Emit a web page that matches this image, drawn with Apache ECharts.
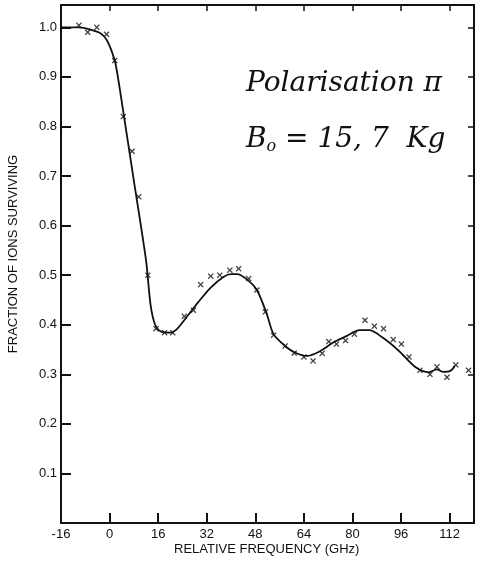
<!DOCTYPE html>
<html>
<head>
<meta charset="UTF-8">
<title>Fraction of ions surviving</title>
<script src="https://cdn.jsdelivr.net/npm/echarts@6/dist/echarts.min.js"></script>
<style>
    body { margin: 0; background: #fff; }
    #chart { width: 481px; height: 568px; }
</style>
</head>
<body>
<div id="chart"></div>
<script>
// measured points (x marks)
var measFreq = [-10.1, -7.2, -4.2, -1, 1.7, 4.5, 7.4, 9.6, 12.6, 15.3, 18.1, 20.8, 24.6, 27.6, 30, 33.3,
    36.3, 39.6, 42.5, 45.8, 48.5, 51.3, 54, 57.8, 60.8, 64, 67, 70, 72.2, 74.7, 77.7, 80.6, 84.1, 87.2,
    90.2, 93.4, 96.1, 98.6, 102.2, 105.5, 107.8, 111.1, 114, 118.2];
var measFrac = [1.004, 0.99, 1.0, 0.986, 0.933, 0.82, 0.75, 0.658, 0.5, 0.392, 0.384, 0.384, 0.417, 0.429, 0.481, 0.498,
    0.5, 0.51, 0.513, 0.493, 0.47, 0.426, 0.379, 0.357, 0.343, 0.335, 0.327, 0.342, 0.366, 0.361, 0.368, 0.381, 0.409, 0.397,
    0.392, 0.37, 0.361, 0.335, 0.308, 0.3, 0.315, 0.294, 0.319, 0.308];

// hand-drawn fit curve
var curveFreq = [-16, -10, -6, -3, -1, 0.5, 2, 4, 8, 12, 13.5, 15, 17, 20, 22, 25.7, 29, 33.3, 37.6, 40, 42, 45.3,
    48.5, 51.8, 54, 58, 61, 65, 69.4, 73.6, 78, 82.3, 85.5, 89.9, 95.3, 100.8, 105.1, 107.8, 109.7, 112.2, 113.7];
var curveFrac = [1.0, 1.0, 0.995, 0.988, 0.975, 0.955, 0.925, 0.85, 0.69, 0.53, 0.44, 0.4, 0.386, 0.384, 0.39, 0.418, 0.444,
    0.475, 0.497, 0.502, 0.502, 0.491, 0.47, 0.421, 0.381, 0.356, 0.344, 0.337, 0.347, 0.364, 0.377, 0.389, 0.389, 0.374,
    0.347, 0.314, 0.304, 0.31, 0.305, 0.307, 0.317];

var xTickStep = 16;
var yTickStep = 0.1;

var chart = echarts.init(document.getElementById('chart'));
var ink = '#111';
// a bold little "x"
var xMark = 'path://M0,1.5L1.5,0L5,3.5L8.5,0L10,1.5L6.5,5L10,8.5L8.5,10L5,6.5L1.5,10L0,8.5L3.5,5Z';

var axisCommon = {
    axisLine: { show: true, onZero: false, lineStyle: { color: ink, width: 2 } },
    axisTick: { show: true, inside: true, length: 10, lineStyle: { color: ink, width: 2 } },
    splitLine: { show: false }
};
var smallTicks = { show: true, inside: true, length: 6, lineStyle: { color: ink, width: 1.5 } };

chart.setOption({
    animation: false,
    grid: { left: 61, right: 7, top: 5, bottom: 45 },
    xAxis: [
        Object.assign({
            type: 'value', min: -16, max: 120, interval: xTickStep, position: 'bottom',
            axisLabel: { showMaxLabel: false, margin: 5, color: ink, fontFamily: 'Liberation Sans', fontSize: 13 }
        }, axisCommon),
        Object.assign({
            type: 'value', min: -16, max: 120, interval: xTickStep, position: 'top',
            axisLabel: { show: false }
        }, axisCommon, { axisTick: smallTicks })
    ],
    yAxis: [
        Object.assign({
            type: 'value', min: 0, max: 1.045, interval: yTickStep, position: 'left',
            axisLabel: {
                showMinLabel: false, showMaxLabel: false, margin: 4, color: ink,
                fontFamily: 'Liberation Sans', fontSize: 13,
                formatter: function (v) { return v.toFixed(1); }
            }
        }, axisCommon),
        Object.assign({
            type: 'value', min: 0, max: 1.045, interval: yTickStep, position: 'right',
            axisLabel: { show: false }
        }, axisCommon, { axisTick: smallTicks })
    ],
    series: [
        {
            type: 'line', smooth: 0.3, symbol: 'none',
            lineStyle: { color: ink, width: 1.8 },
            data: curveFreq.map(function (f, i) { return [f, curveFrac[i]]; })
        },
        {
            type: 'scatter', symbol: xMark, symbolSize: 6,
            itemStyle: { color: ink },
            data: measFreq.map(function (f, i) { return [f, measFrac[i]]; })
        }
    ],
    graphic: [
        {
            type: 'text', left: 174, top: 543,
            style: { text: 'RELATIVE FREQUENCY (GHz)', fill: ink, font: '13px "Liberation Sans"' }
        },
        {
            type: 'text', x: 13, y: 254, rotation: Math.PI / 2,
            style: {
                text: 'FRACTION OF IONS SURVIVING', fill: ink, font: '13px "Liberation Sans"',
                align: 'center', verticalAlign: 'middle'
            }
        },
        {
            type: 'text', left: 246, top: 70,
            style: { text: 'Polarisation π', fill: ink, font: 'italic 28px "DejaVu Serif"' }
        },
        {
            type: 'text', left: 246, top: 126,
            style: {
                text: 'B{s|o} = 15, 7  Kg', fill: ink, font: 'italic 28px "DejaVu Serif"',
                rich: { s: { fontSize: 16, fontStyle: 'italic', fontFamily: 'DejaVu Serif', padding: [14, 0, 0, 0] } }
            }
        }
    ]
});
</script>
</body>
</html>
